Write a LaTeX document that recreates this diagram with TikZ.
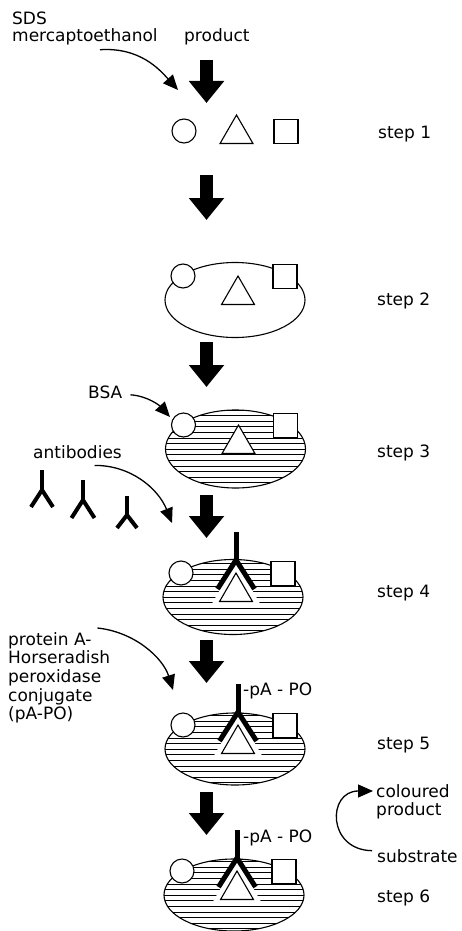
\documentclass[tikz,border=0pt]{standalone}
\usepackage{fontspec}
\setmainfont{DejaVu Sans}
\usetikzlibrary{arrows.meta, shapes.geometric, calc}

\tikzset{
  lbl/.style={inner sep=0pt, anchor=base west, font=\fontsize{17}{18.7}\selectfont},
  bigarrow/.style={line width=13pt, -{Triangle[length=22pt,width=34pt]}},
  thinarrow/.style={line width=1.3pt, -{Triangle[length=15pt,width=13pt]}},
  cell/.style={draw, ellipse, line width=1.1pt, inner sep=0pt, minimum width=140pt},
  hatched/.style={path picture={\foreach \k in {-8,...,8}
      \draw[line width=0.6pt] ([yshift=\k*5.6pt]path picture bounding box.west)
        -- ([yshift=\k*5.6pt]path picture bounding box.east);}},
  ringmol/.style={draw, circle, fill=white, line width=1.1pt, minimum size=24pt, inner sep=0pt},
  squaremol/.style={draw, rectangle, fill=white, line width=1.1pt, minimum size=24pt, inner sep=0pt},
  trimol/.style={draw, regular polygon, regular polygon sides=3, fill=white,
      line width=1.1pt, minimum size=38pt, inner sep=0pt},
  gap/.style={preaction={draw=white, line width=11pt}},
  nogap/.style={},
  abody/.style={line width=4pt},
}

\begin{document}
\begin{tikzpicture}[x=1pt, y=-1pt]
\useasboundingbox (0,0) rectangle (462,931);

% reagents
\node[lbl] (sds) at (12,25) {SDS};
\node[lbl] (merc) at (12,42) {mercaptoethanol};
\node[lbl] (prod) at (184,42) {product};
\node[lbl] (bsa) at (88,398) {BSA};
\node[lbl] (anti) at (33,458) {antibodies};
\node[lbl, anchor=north west, align=left] (prot) at (8,632)
  {protein A-\\Horseradish\\peroxidase\\conjugate\\(pA-PO)};

% step labels
\node[lbl] (s1) at (378,139) {step 1};
\node[lbl] (s2) at (377,305) {step 2};
\node[lbl] (s3) at (377,457) {step 3};
\node[lbl] (s4) at (377,597) {step 4};
\node[lbl] (s5) at (377,749) {step 5};
\node[lbl] (s6) at (377,902) {step 6};

% big arrows
\foreach \i/\ya/\yb in {1/60/103, 2/175/220, 3/342/387, 4/495/538, 5/640/683, 6/792/835} {
  \coordinate (up\i) at (206.5,\ya);
  \coordinate (dn\i) at (206.5,\yb);
  \draw[bigarrow] (up\i) -- (dn\i);
}

% step 1
\node[ringmol] (c1) at (184,131) {};
\node[trimol] (t1) at (236.5,134) {};
\node[squaremol] (q1) at (286,131.5) {};

% step 2
\node[cell, minimum height=75pt] (e2) at (235,300) {};
\node[ringmol] (c2) at ($(e2)+(-52,-24)$) {};
\node[squaremol] (q2) at ($(e2)+(50,-23.5)$) {};
\node[trimol] (t2) at ($(e2)+(3,-5)$) {};

% steps 3-6, blocked with BSA
\foreach \s/\ex/\ey/\h/\g in {3/235.5/449/78/nogap, 4/233/597/75/gap,
                              5/235/749/72/gap, 6/234/895/72/gap} {
  \node[cell, hatched, minimum height=\h pt] (e\s) at (\ex,\ey) {};
  \node[ringmol] (c\s) at ($(e\s)+(-52,-24)$) {};
  \node[squaremol] (q\s) at ($(e\s)+(50,-23.5)$) {};
  \node[trimol, \g] (t\s) at ($(e\s)+(3,-5)$) {};
}

% bound antibodies
\foreach \s in {4,5,6} {
  \draw[abody, line width=5pt] ($(t\s)+(0,-60)$) -- ($(t\s)+(0,-32)$);
  \draw[abody, line width=5pt] ($(t\s)+(-18.5,-3)$) -- ($(t\s)+(0,-32)$) -- ($(t\s)+(18.5,-3)$);
}
\node[lbl] (po5) at (243,695) {-pA - PO};
\node[lbl] (po6) at (243,842) {-pA - PO};

% free antibodies
\foreach \x/\y/\a/\b/\d in {42/470/20/37/11, 83/480/20/38/11.5, 127/496/19/32/10} {
  \draw[abody] (\x,\y) -- (\x,\y+\a);
  \draw[abody] (\x-\d,\y+\b) -- (\x,\y+\a) -- (\x+\d,\y+\b);
}

% reagent arrows
\coordinate (sdsTip) at (178,90);
\coordinate (bsaTip) at (170,417);
\coordinate (antiTip) at (172,523);
\coordinate (protTip) at (173,690);
\draw[thinarrow] ([shift={(15,4)}]merc.south) .. controls (140,47) and (160,70) .. (sdsTip);
\draw[thinarrow] ([shift={(8,3)}]bsa.east) .. controls (148,396) and (160,406) .. (bsaTip);
\draw[thinarrow] ([shift={(17,7)}]anti.south) .. controls (130,465) and (158,488) .. (antiTip);
\draw[thinarrow] ([shift={(-13,-4)}]prot.north east) .. controls (135,632) and (163,658) .. (protTip);

% substrate to coloured product
\node[lbl, anchor=north west, align=left] (colp) at (376,784) {coloured\\product};
\node[lbl] (subs) at (377,862) {substrate};
\draw[thinarrow] ([shift={(-5,-5)}]subs.west) .. controls (327,850) and (327,791) .. ([shift={(-3,7)}]colp.north west);
\end{tikzpicture}
\end{document}
